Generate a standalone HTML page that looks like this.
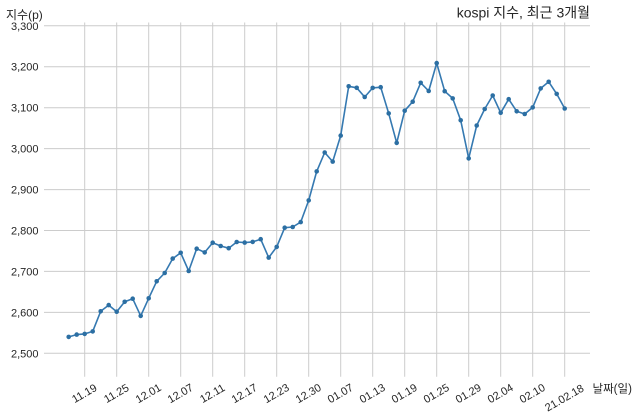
<!DOCTYPE html>
<html>
<head>
<meta charset="utf-8">
<style>
  html, body { margin: 0; padding: 0; background: #ffffff; }
  body { width: 640px; height: 418px; overflow: hidden; }
  svg { display: block; }
  .tk { font-family: "Liberation Sans", "Noto Sans CJK KR", sans-serif; font-size: 11px; fill: #262626; }
  .xt { font-family: "Liberation Sans", "Noto Sans CJK KR", sans-serif; font-size: 11px; fill: #262626; }
  .lb { font-family: "Liberation Sans", "Noto Sans CJK KR", sans-serif; fill: #262626; }
</style>
</head>
<body>
<svg width="640" height="418" viewBox="0 0 640 418" xmlns="http://www.w3.org/2000/svg">
  <defs>
    <marker id="m" markerUnits="userSpaceOnUse" markerWidth="8" markerHeight="8" refX="4" refY="4">
      <circle cx="4" cy="4" r="2.3" fill="#2c6fa3"/>
    </marker>
  </defs>

  <!-- horizontal grid -->
  <g stroke="#cccccc" stroke-width="1">
    <line x1="44" y1="353.3" x2="590" y2="353.3"/>
    <line x1="44" y1="312.4" x2="590" y2="312.4"/>
    <line x1="44" y1="271.4" x2="590" y2="271.4"/>
    <line x1="44" y1="230.5" x2="590" y2="230.5"/>
    <line x1="44" y1="189.6" x2="590" y2="189.6"/>
    <line x1="44" y1="148.6" x2="590" y2="148.6"/>
    <line x1="44" y1="107.7" x2="590" y2="107.7"/>
    <line x1="44" y1="66.7" x2="590" y2="66.7"/>
    <line x1="44" y1="25.8" x2="590" y2="25.8"/>
  </g>
  <!-- vertical grid -->
  <g stroke="#cccccc" stroke-width="1">
    <line x1="84.7" y1="22.5" x2="84.7" y2="376.7"/>
    <line x1="116.7" y1="22.5" x2="116.7" y2="376.7"/>
    <line x1="148.7" y1="22.5" x2="148.7" y2="376.7"/>
    <line x1="180.7" y1="22.5" x2="180.7" y2="376.7"/>
    <line x1="212.7" y1="22.5" x2="212.7" y2="376.7"/>
    <line x1="244.7" y1="22.5" x2="244.7" y2="376.7"/>
    <line x1="276.7" y1="22.5" x2="276.7" y2="376.7"/>
    <line x1="308.7" y1="22.5" x2="308.7" y2="376.7"/>
    <line x1="340.7" y1="22.5" x2="340.7" y2="376.7"/>
    <line x1="372.7" y1="22.5" x2="372.7" y2="376.7"/>
    <line x1="404.7" y1="22.5" x2="404.7" y2="376.7"/>
    <line x1="436.7" y1="22.5" x2="436.7" y2="376.7"/>
    <line x1="468.7" y1="22.5" x2="468.7" y2="376.7"/>
    <line x1="500.7" y1="22.5" x2="500.7" y2="376.7"/>
    <line x1="532.7" y1="22.5" x2="532.7" y2="376.7"/>
    <line x1="564.7" y1="22.5" x2="564.7" y2="376.7"/>
  </g>

  <!-- y tick labels -->
  <g class="tk" text-anchor="end">
    <text x="38.5" y="357.3">2,500</text>
    <text x="38.5" y="316.4">2,600</text>
    <text x="38.5" y="275.4">2,700</text>
    <text x="38.5" y="234.5">2,800</text>
    <text x="38.5" y="193.6">2,900</text>
    <text x="38.5" y="152.6">3,000</text>
    <text x="38.5" y="111.7">3,100</text>
    <text x="38.5" y="70.7">3,200</text>
    <text x="38.5" y="29.8">3,300</text>
  </g>

  <!-- x tick labels -->
  <g class="xt" text-anchor="middle" dominant-baseline="central">
    <text x="84.7" y="394" transform="rotate(-30 84.7 394)">11.19</text>
    <text x="116.7" y="394" transform="rotate(-30 116.7 394)">11.25</text>
    <text x="148.7" y="394" transform="rotate(-30 148.7 394)">12.01</text>
    <text x="180.7" y="394" transform="rotate(-30 180.7 394)">12.07</text>
    <text x="212.7" y="394" transform="rotate(-30 212.7 394)">12.11</text>
    <text x="244.7" y="394" transform="rotate(-30 244.7 394)">12.17</text>
    <text x="276.7" y="394" transform="rotate(-30 276.7 394)">12.23</text>
    <text x="308.7" y="394" transform="rotate(-30 308.7 394)">12.30</text>
    <text x="340.7" y="394" transform="rotate(-30 340.7 394)">01.07</text>
    <text x="372.7" y="394" transform="rotate(-30 372.7 394)">01.13</text>
    <text x="404.7" y="394" transform="rotate(-30 404.7 394)">01.19</text>
    <text x="436.7" y="394" transform="rotate(-30 436.7 394)">01.25</text>
    <text x="468.7" y="394" transform="rotate(-30 468.7 394)">01.29</text>
    <text x="500.7" y="394" transform="rotate(-30 500.7 394)">02.04</text>
    <text x="532.7" y="394" transform="rotate(-30 532.7 394)">02.10</text>
    <text x="564.7" y="398.5" transform="rotate(-30 564.7 398.5)">21.02.18</text>
  </g>

  <!-- labels -->
  <text class="lb" x="6" y="19" font-size="12">지수(p)</text>
  <text class="lb" x="590" y="17.5" font-size="14" text-anchor="end">kospi 지수, 최근 3개월</text>
  <text class="lb" x="592.5" y="392.5" font-size="11.5">날짜(일)</text>

  <!-- series -->
  <polyline fill="none" stroke="#3579b1" stroke-width="1.6" stroke-linejoin="round"
    marker-start="url(#m)" marker-mid="url(#m)" marker-end="url(#m)"
    points="68.7,336.9 76.7,334.6 84.7,333.9 92.7,331.4 100.7,311.3 108.7,305.1 116.7,311.7 124.7,301.8 132.7,298.7 140.7,315.9 148.7,298.3 156.7,281.3 164.7,273.0 172.7,258.6 180.7,252.8 188.7,271.0 196.7,248.7 204.7,252.4 212.7,242.7 220.7,246.0 228.7,248.2 236.7,242.0 244.7,242.6 252.7,241.9 260.7,239.2 268.7,257.6 276.7,246.9 284.7,227.7 292.7,227.0 300.7,222.1 308.7,200.4 316.7,171.4 324.7,152.5 332.7,161.6 340.7,135.6 348.7,86.3 356.7,87.8 364.7,97.0 372.7,87.9 380.7,87.2 388.7,113.4 396.7,142.9 404.7,110.7 412.7,101.7 420.7,82.8 428.7,91.0 436.7,63.1 444.7,91.2 452.7,98.4 460.7,120.3 468.7,158.4 476.7,125.5 484.7,109.0 492.7,95.5 500.7,112.8 508.7,99.2 516.7,111.3 524.7,114.0 532.7,107.4 540.7,88.4 548.7,81.8 556.7,93.9 564.7,108.5"/>
</svg>
</body>
</html>
